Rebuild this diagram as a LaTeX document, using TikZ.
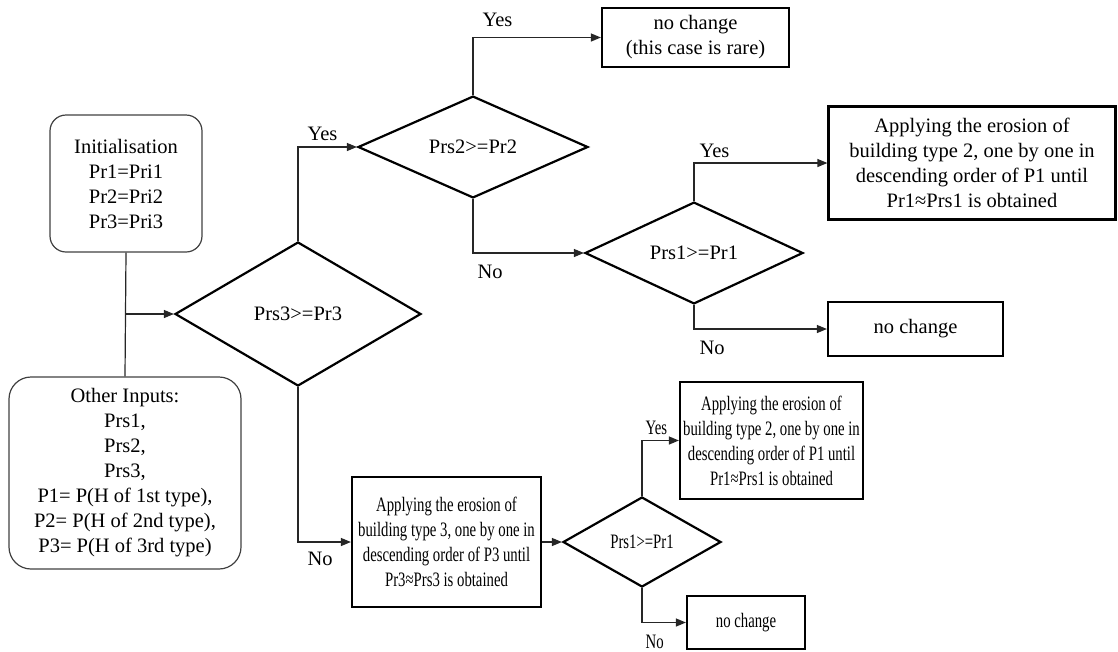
\documentclass[tikz,border=0pt]{standalone}
\usepackage{fontspec}
\setmainfont{Liberation Serif}
\newfontfamily\narrowfont[FakeStretch=0.72]{Liberation Serif}
\usetikzlibrary{shapes.geometric,arrows.meta}
\begin{document}
\begin{tikzpicture}[x=1pt,y=-1pt,
  every node/.style={font=\fontsize{20.5}{25}\selectfont},
  rbox/.style={draw=black!75, line width=1.2pt, rounded corners=16pt, align=center, inner sep=0pt},
  pbox/.style={draw, line width=2.2pt, align=center, inner sep=0pt},
  dec/.style={draw, diamond, line width=2.2pt, inner sep=0pt, align=center},
  narrow/.style={font=\fontsize{20.5}{25}\narrowfont},
  conn/.style={line width=1.2pt, draw=black!85},
  arr/.style={conn, -{Triangle[length=10pt,width=8pt]}},
  lbl/.style={inner sep=0pt}
]
\useasboundingbox (0,0) rectangle (1118,651);

% start boxes
\node[rbox, minimum width=152pt, minimum height=137pt] (init) at (126,183.5)
  {Initialisation\\Pr1=Pri1\\Pr2=Pri2\\Pr3=Pri3};
\node[rbox, minimum width=232pt, minimum height=192pt, rounded corners=22pt] (other) at (125,473)
  {Other Inputs:\\Prs1,\\Prs2,\\Prs3,\\P1= P(H of 1st type),\\P2= P(H of 2nd type),\\P3= P(H of 3rd type)};

% decisions
\node[dec, minimum width=246pt, minimum height=144pt] (d3) at (298,314) {Prs3>=Pr3};
\node[dec, minimum width=230pt, minimum height=96pt] (d2) at (473,147) {Prs2>=Pr2};
\node[dec, minimum width=218pt, minimum height=98pt] (d1a) at (694,253) {Prs1>=Pr1};
\node[dec, minimum width=158pt, minimum height=90pt, narrow] (d1b) at (642,542) {Prs1>=Pr1};

% process boxes
\node[pbox, minimum width=187pt, minimum height=59pt] (rare) at (695.5,37.5)
  {no change\\(this case is rare)};
\node[pbox, minimum width=287pt, minimum height=113pt] (e2a) at (972,163)
  {Applying the erosion of\\building type 2, one by one in\\descending order of P1 until\\Pr1≈Prs1 is obtained};
\node[pbox, minimum width=175pt, minimum height=54pt] (nc1) at (915.5,329) {no change};
\node[pbox, minimum width=189pt, minimum height=130pt, narrow] (e3) at (446.5,542)
  {Applying the erosion of\\building type 3, one by one in\\descending order of P3 until\\Pr3≈Prs3 is obtained};
\node[pbox, minimum width=183pt, minimum height=117pt, narrow] (e2b) at (771.5,440.5)
  {Applying the erosion of\\building type 2, one by one in\\descending order of P1 until\\Pr1≈Prs1 is obtained};
\node[pbox, minimum width=118pt, minimum height=53pt, narrow] (nc2) at (746,622.5) {no change};

% connectors
\draw[conn] (init.south) -- (other.north);
\coordinate (j) at (init.south |- d3.west);
\draw[arr] (j) -- (d3.west);
\draw[arr] (d3.north) |- (d2.west) node[pos=0.5, lbl, above right, xshift=9pt, yshift=6pt] {Yes};
\draw[arr] (d3.south) |- (e3.west) node[pos=0.5, lbl, below right, xshift=9pt, yshift=-9pt] {No};
\draw[arr] (d2.north) |- (rare.west) node[pos=0.5, lbl, above right, xshift=9pt, yshift=10pt] {Yes};
\draw[arr] (d2.south) |- (d1a.west) node[pos=0.5, lbl, below right, xshift=4pt, yshift=-11pt] {No};
\draw[arr] (d1a.north) |- (e2a.west) node[pos=0.5, lbl, above right, xshift=5pt, yshift=5pt] {Yes};
\draw[arr] (d1a.south) |- (nc1.west) node[pos=0.5, lbl, below right, xshift=5pt, yshift=-11pt] {No};
\draw[arr] (e3.east) -- (d1b.west);
\draw[arr] (d1b.north) |- (e2b.west) node[pos=0.5, lbl, above right, narrow, xshift=3pt, yshift=5pt] {Yes};
\draw[arr] (d1b.south) |- (nc2.west) node[pos=0.5, lbl, below right, narrow, xshift=3pt, yshift=-12pt] {No};
\end{tikzpicture}
\end{document}
